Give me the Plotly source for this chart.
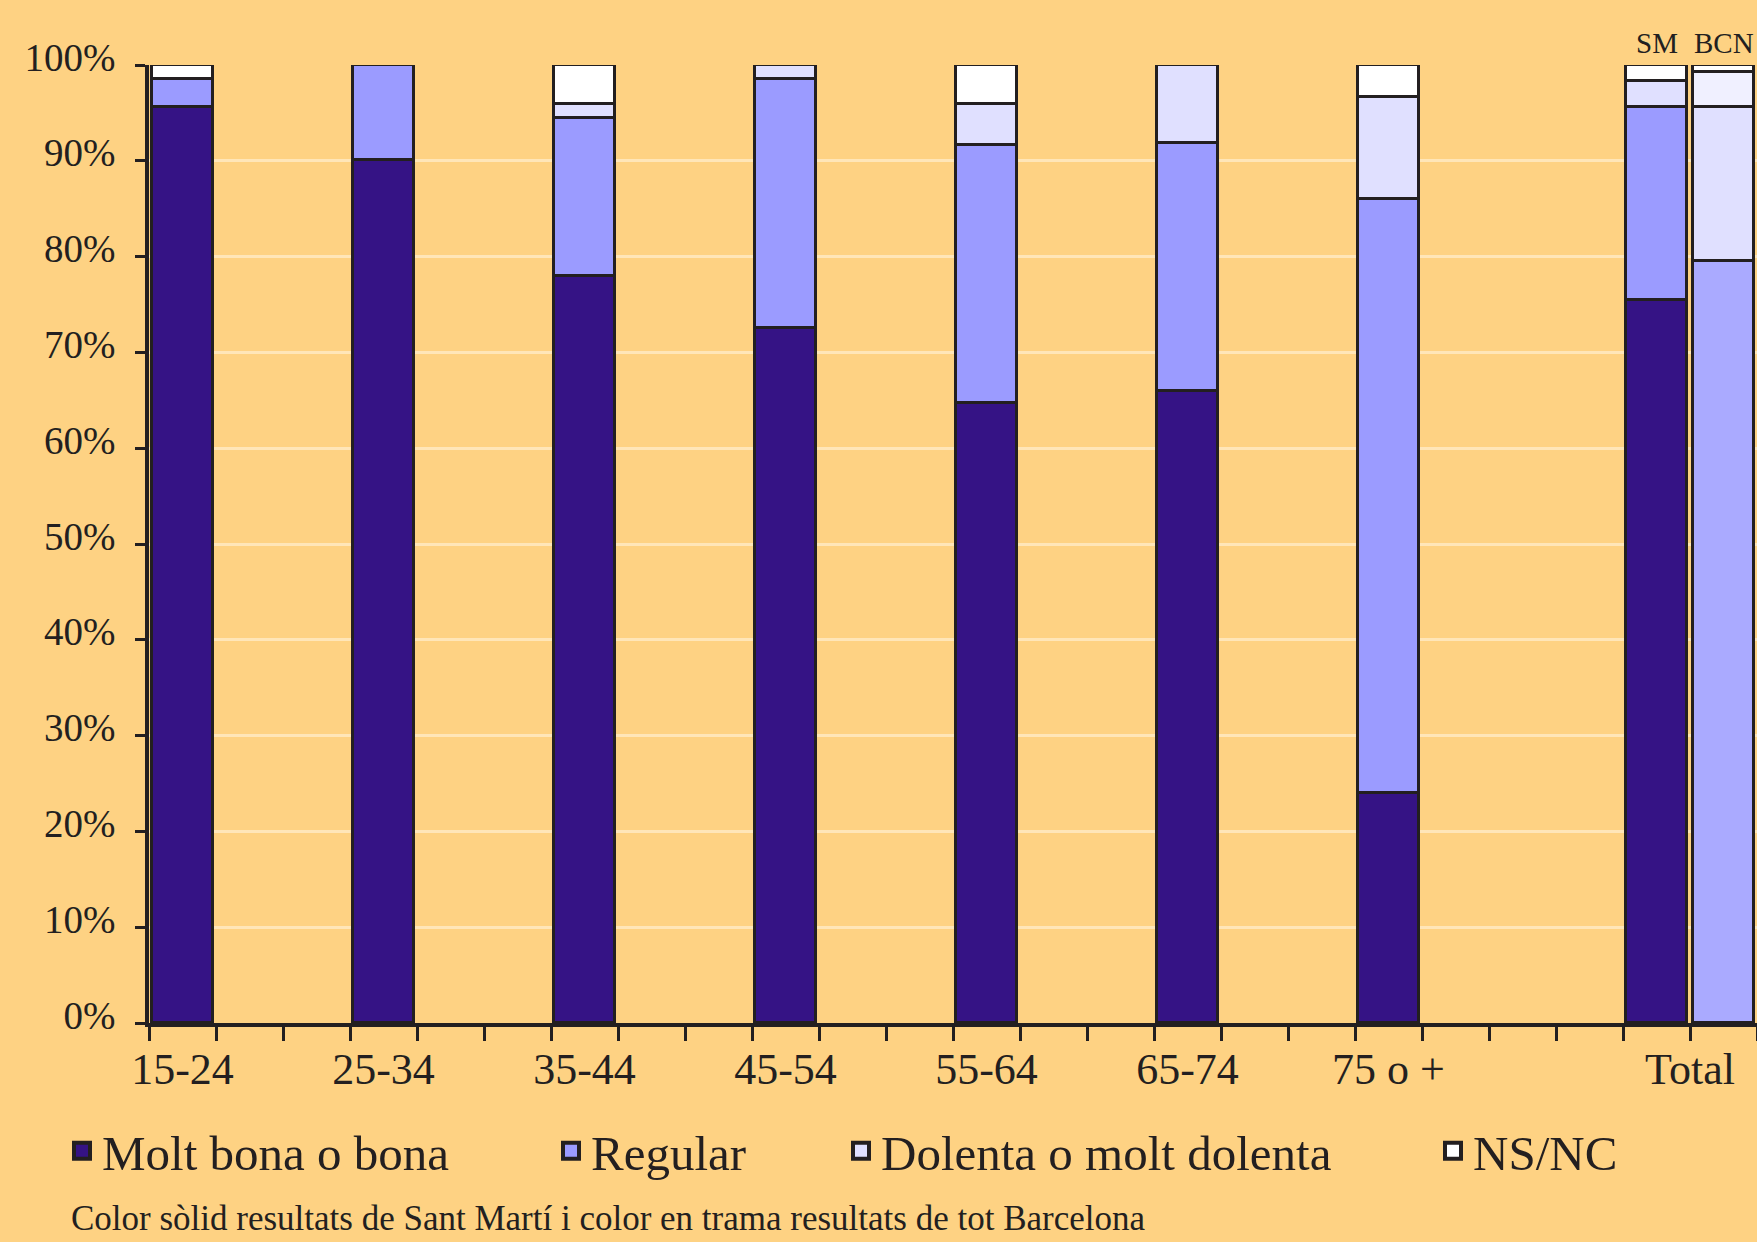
import plotly.graph_objects as go

# ---------------- data ----------------
categories = ["15-24", "25-34", "35-44", "45-54", "55-64", "65-74", "75 o +", "Total"]
series_names = ["Molt bona o bona", "Regular", "Dolenta o molt dolenta", "NS/NC"]

# Sant Martí (solid colour) – age groups + total
sm_molt_bona = [95.6, 90.1, 78.0, 72.5, 64.7, 66.0, 24.0, 75.5]
sm_regular = [2.9, 9.9, 16.5, 26.0, 26.9, 25.9, 62.0, 20.1]
sm_dolenta = [0.0, 0.0, 1.4, 1.5, 4.3, 8.1, 10.7, 2.7]
sm_nsnc = [1.5, 0.0, 4.1, 0.0, 4.1, 0.0, 3.3, 1.7]

# Barcelona total (pattern colour)
bcn_total = [79.5, 16.1, 3.7, 0.7]

y_tick_values = [0, 10, 20, 30, 40, 50, 60, 70, 80, 90, 100]
y_tick_labels = ["0%", "10%", "20%", "30%", "40%", "50%", "60%", "70%", "80%", "90%", "100%"]
total_bar_labels = ["SM", "BCN"]
footnote = "Color sòlid resultats de Sant Martí i color en trama resultats de tot Barcelona"

# ---------------- style ----------------
W, H = 1757, 1242
BG = "#FED283"
GRID = "#FFE6B8"
INK = "#231F20"
FONT = "Liberation Serif"
sm_colors = ["#351385", "#9B9BFF", "#E0E0FF", "#FFFFFF"]
bcn_colors = ["#AAAAFF", "#E0E0FF", "#F0F0FF", "#FFFFFF"]

# slot layout: each age group occupies 3 slots, the bar sits in the first one
n_age = len(categories) - 1
x_sm = [3 * i + 0.5 for i in range(n_age)] + [3 * n_age + 1.5]
x_bcn = [x_sm[-1] + 1.0]
x_labels = x_sm[:-1] + [x_sm[-1] + 0.5]
BAR_W = 0.9

fig = go.Figure()
sm_series = [sm_molt_bona, sm_regular, sm_dolenta, sm_nsnc]
for name, vals, col in zip(series_names, sm_series, sm_colors):
    fig.add_trace(go.Bar(
        x=x_sm, y=vals, name=name, width=BAR_W,
        marker=dict(color=col, line=dict(color=INK, width=3.5)),
        showlegend=False, cliponaxis=False,
        hovertemplate=name + ": %{y}%<extra>SM</extra>",
    ))
for name, val, col in zip(series_names, bcn_total, bcn_colors):
    fig.add_trace(go.Bar(
        x=x_bcn, y=[val], name=name + " (BCN)", width=BAR_W,
        marker=dict(color=col, line=dict(color=INK, width=3.5)),
        showlegend=False, cliponaxis=False,
        hovertemplate=name + ": %{y}%<extra>BCN</extra>",
    ))

# legend entries (one legend per entry so they can be spaced like the original)
legend_left = [62, 551, 841, 1433]
legend_keys = ["legend", "legend2", "legend3", "legend4"]
for name, col, key in zip(series_names, sm_colors, legend_keys):
    fig.add_trace(go.Scatter(
        x=[None], y=[None], mode="markers", name=name, legend=key,
        marker=dict(symbol="square", size=16, color=col, line=dict(color=INK, width=4)),
        showlegend=True, hoverinfo="skip",
    ))

L, T, B = 149, 65, 1242 - 1023
plot_h = H - T - B
plot_w = W - L

legend_common = dict(
    orientation="h", xref="container", yref="container",
    xanchor="left", yanchor="middle", y=1 - 1151 / H,
    bgcolor="rgba(0,0,0,0)", font=dict(family=FONT, size=49, color=INK),
    itemclick=False, itemdoubleclick=False,
)
layout_legends = {}
for key, lx in zip(legend_keys, legend_left):
    layout_legends[key] = dict(legend_common, x=lx / W)

annotations = []
for lab, xv in zip(total_bar_labels, [x_sm[-1], x_bcn[0]]):
    annotations.append(dict(
        x=xv, y=1 + (T - 43) / plot_h, xref="x", yref="paper", text=lab,
        showarrow=False, xanchor="center", yanchor="middle",
        font=dict(family=FONT, size=29, color=INK),
    ))
annotations.append(dict(
    x=(69 - L) / plot_w, y=-(1240 - 1023) / plot_h, xref="paper", yref="paper",
    text=footnote, showarrow=False, xanchor="left", yanchor="bottom",
    font=dict(family=FONT, size=35, color=INK),
))

fig.update_layout(
    width=W, height=H,
    margin=dict(l=L, r=0, t=T, b=B, pad=0),
    paper_bgcolor=BG, plot_bgcolor=BG,
    barmode="stack", bargap=0,
    font=dict(family=FONT, color=INK),
    annotations=annotations,
    **layout_legends,
)

fig.update_xaxes(
    range=[0, 3 * n_age + 3], showgrid=False, zeroline=False,
    showline=True, linecolor=INK, linewidth=4,
    tickmode="array", tickvals=x_labels, ticktext=categories,
    ticks="", tickfont=dict(family=FONT, size=44, color=INK),
    ticklabelstandoff=4,
    minor=dict(tickmode="array", tickvals=list(range(0, 3 * n_age + 4)),
               ticks="outside", ticklen=14, tickwidth=3, tickcolor=INK, showgrid=False),
    fixedrange=True,
)
fig.update_yaxes(
    range=[0, 100], showgrid=True, gridcolor=GRID, gridwidth=3, zeroline=False,
    showline=True, linecolor=INK, linewidth=3.5,
    tickmode="array", tickvals=y_tick_values, ticktext=y_tick_labels,
    ticks="outside", ticklen=10, tickwidth=3, tickcolor=INK,
    tickfont=dict(family=FONT, size=39, color=INK),
    ticklabelstandoff=12, ticklabelshift=-8,
    fixedrange=True,
)

fig.write_html(
    "out.html",
    config={"displayModeBar": False},
    post_script="document.body.style.margin='0';document.body.style.overflow='hidden';",
)
